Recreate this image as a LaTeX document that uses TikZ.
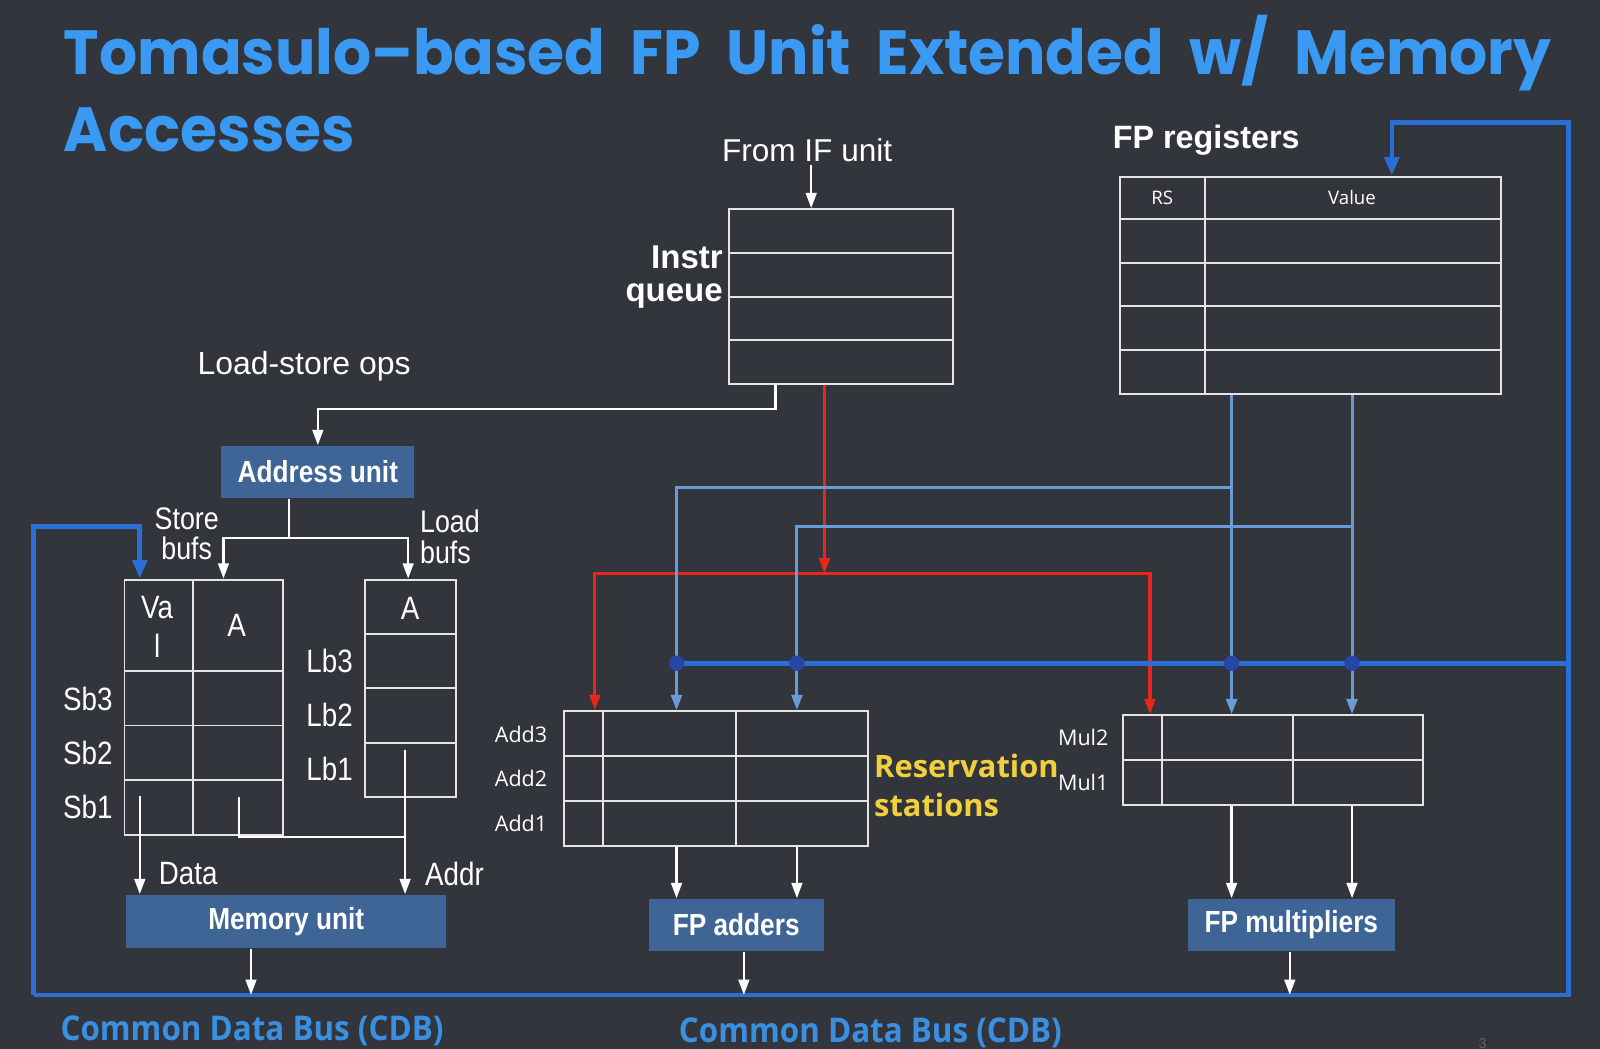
\documentclass[tikz,border=0pt]{standalone}
\usepackage{fontspec}
\setmainfont{Liberation Sans}
\newfontfamily\titlefont[FakeStretch=0.96]{Poppins}
\newfontfamily\narrowfont[FakeStretch=0.86]{Liberation Sans}
\newfontfamily\uifont{Open Sans}
\newfontfamily\cdbfont[FakeStretch=0.92]{Open Sans}
\usepackage{tikz}
\usetikzlibrary{positioning, fit, arrows.meta, calc}
\definecolor{slideBg}{HTML}{33353C}
\definecolor{titleBlue}{HTML}{3A9AF3}
\definecolor{unitBlue}{HTML}{3F6596}
\definecolor{cdbBlue}{HTML}{2B6FD6}
\definecolor{cdbText}{HTML}{3A8FE0}
\definecolor{tagBlue}{HTML}{6A9BD8}
\definecolor{dotBlue}{HTML}{2846A8}
\definecolor{issueRed}{HTML}{E8261C}
\definecolor{rsYellow}{HTML}{F2D03C}
\definecolor{gridWhite}{HTML}{E4E4E4}

\begin{document}
\begin{tikzpicture}[
  x=0.01cm, y=-0.01cm,
  tbl/.style={draw=gridWhite, line width=0.55pt, inner sep=0pt},
  unitbox/.style={fill=unitBlue, text=white, inner sep=0pt,
    font=\narrowfont\bfseries\fontsize{8.5}{10}\selectfont},
  lbl/.style={text=white, inner sep=0pt, font=\narrowfont\fontsize{9}{10}\selectfont},
  rslbl/.style={text=white, inner sep=0pt, anchor=east, font=\uifont\fontsize{6}{7}\selectfont},
  wline/.style={draw=white, line width=0.65pt},
  warr/.style={wline, -{Triangle[length=1.5mm, width=1.05mm]}},
  rarr/.style={draw=issueRed, line width=0.85pt, -{Triangle[length=1.5mm, width=1.05mm]}},
  barr/.style={draw=tagBlue, line width=0.85pt, -{Triangle[length=1.5mm, width=1.05mm]}},
  cdb/.style={draw=cdbBlue, line width=1.3pt},
  cdbarr/.style={cdb, -{Triangle[length=1.8mm, width=1.4mm]}},
  busdot/.style={circle, fill=dotBlue, inner sep=0pt, minimum size=0.15cm},
  cdblbl/.style={text=cdbText, inner sep=0pt, font=\cdbfont\bfseries\fontsize{9.5}{10}\selectfont}
]
  % Marco de la diapositiva
  \fill[slideBg] (0,0) rectangle (1568,1028);
  \useasboundingbox (0,0) rectangle (1568,1028);

  % Bus común (CDB)
  \pgfmathsetmacro{\cdbL}{33}
  \pgfmathsetmacro{\cdbR}{1537}
  \pgfmathsetmacro{\cdbB}{975}
  \pgfmathsetmacro{\cdbM}{650}

  % --- Título ---
  \node[anchor=base west, inner sep=0pt, text=titleBlue,
        font=\titlefont\bfseries\fontsize{17.4}{20}\selectfont] (ttlA) at (62,73)
    {Tomasulo–based\ \ FP\ \ Unit\ \ Extended\ \ w/\ \ Memory};
  \node[anchor=base west, inner sep=0pt, text=titleBlue,
        font=\titlefont\bfseries\fontsize{17.4}{20}\selectfont] (ttlB) at (62,148) {Accesses};

  % --- Cola de instrucciones ---
  \node[tbl, fit={(714,205) (934,376)}] (iq) {};
  \foreach \y in {248,291,333}
    \draw[tbl] (iq.west |- 0,\y) -- (iq.east |- 0,\y);
  \node[text=white, inner sep=0pt, font=\fontsize{8.8}{10}\selectfont] (ifl) at (791,147) {From IF unit};
  \node[anchor=east, align=right, text=white, inner sep=0pt,
        font=\bfseries\fontsize{9.2}{9.2}\selectfont] (iqlbl) at (709,272) {Instr\\queue};
  \draw[warr] ([yshift=-0.03cm]ifl.south -| 795,0) -- (iq.north -| 795,0);

  % --- Registros FP ---
  \node[tbl, fit={(1098,173) (1471,386)}] (fpr) {};
  \draw[tbl] (1181,173) -- (1181,386);
  \foreach \y in {215,258,300,343}
    \draw[tbl] (fpr.west |- 0,\y) -- (fpr.east |- 0,\y);
  \node[anchor=west, text=white, inner sep=0pt, font=\bfseries\fontsize{9}{10}\selectfont]
    (fprlbl) at (1090,137) {FP registers};
  \node[text=white, inner sep=0pt, font=\uifont\fontsize{5.2}{6}\selectfont] (rsh) at (1139,194) {RS};
  \node[text=white, inner sep=0pt, font=\uifont\fontsize{5.2}{6}\selectfont] (valh) at (1325,194) {Value};

  % --- Unidad de direcciones y buffers ---
  \node[text=white, inner sep=0pt, font=\fontsize{8.9}{10}\selectfont] (lsops) at (298,359) {Load-store ops};
  \node[unitbox, minimum width=1.89cm, minimum height=0.51cm] (addr) at (311.5,462.5) {Address unit};
  \coordinate (lsTap) at (760,376);
  \draw[warr] (lsTap) -- ++(0,25) -| (addr.north);

  \node[tbl, fit={(122,568) (277,818)}] (sb) {};
  \draw[tbl] (189,568) -- (189,818);
  \foreach \y in {658,711,764}
    \draw[tbl] (sb.west |- 0,\y) -- (sb.east |- 0,\y);
  \node[tbl, fit={(358,568) (447,781)}] (lb) {};
  \foreach \y in {621,674,728}
    \draw[tbl] (lb.west |- 0,\y) -- (lb.east |- 0,\y);

  \coordinate (auSplit) at (283,527);
  \draw[wline] (addr.south -| auSplit) -- (auSplit);
  \draw[warr] (auSplit) -| (sb.north -| 219,0);
  \draw[warr] (auSplit) -| (lb.north -| 400,0);

  \node[lbl, align=center, font=\narrowfont\fontsize{8.7}{8.4}\selectfont] (sbuf) at (183,523) {Store\\bufs};
  \node[lbl, align=left, anchor=west, font=\narrowfont\fontsize{8.7}{8.8}\selectfont] (lbuf) at (411,526) {Load\\bufs};
  \node[lbl, align=center, font=\narrowfont\fontsize{9}{10.8}\selectfont] (sbv) at (154,614) {Va\\l};
  \node[lbl] (sba) at (232,613) {A};
  \node[lbl] (lba) at (402,596) {A};
  \foreach \n/\y in {3/685,2/738,1/791}
    \node[lbl] (sb\n) at (86,\y) {Sb\n};
  \foreach \n/\y in {3/648,2/701,1/754}
    \node[lbl] (lb\n) at (323,\y) {Lb\n};

  % --- Unidad de memoria ---
  \node[unitbox, minimum width=3.13cm, minimum height=0.52cm] (mem) at (280.5,903) {Memory unit};
  \coordinate (sbData) at (137,780);
  \coordinate (sbAddr) at (234,781);
  \coordinate (lbAddr) at (397,735);
  \draw[warr] (sbData) -- (mem.north -| sbData);
  \draw[wline] (sbAddr) |- (lbAddr |- 0,820);
  \draw[warr] (lbAddr) -- (mem.north -| lbAddr);
  \node[lbl, anchor=west] (datalbl) at (155,856) {Data};
  \node[lbl, anchor=west] (addrlbl) at (416,856) {Addr};

  % --- Estaciones de reserva ---
  \node[tbl, fit={(553,697) (851,829)}] (add) {};
  \foreach \x in {591,721}
    \draw[tbl] (add.north -| \x,0) -- (add.south -| \x,0);
  \foreach \y in {741,785}
    \draw[tbl] (add.west |- 0,\y) -- (add.east |- 0,\y);
  \foreach \n/\y in {3/720,2/763,1/807}
    \node[rslbl] (add\n) at (537,\y) {Add\n};

  \node[tbl, fit={(1101,701) (1395,789)}] (mul) {};
  \foreach \x in {1139,1267}
    \draw[tbl] (mul.north -| \x,0) -- (mul.south -| \x,0);
  \draw[tbl] (mul.west |- 0,745) -- (mul.east |- 0,745);
  \foreach \n/\y in {2/723,1/767}
    \node[rslbl] (mul\n) at (1087,\y) {Mul\n};

  \node[anchor=west, align=left, text=rsYellow, inner sep=0pt,
        font=\uifont\bfseries\fontsize{8.6}{10.8}\selectfont] (rslbl) at (856,770) {Reservation\\stations};

  % --- Emisión (rojo) ---
  \coordinate (issue) at (808,562);
  \draw[rarr] (iq.south -| issue) -- (issue);
  \draw[rarr] (issue) -| (add.north -| 583,0);
  \draw[rarr] (issue) -| (mul.north -| 1127,0);

  % --- Operandos desde los registros ---
  \draw[barr] (fpr.south -| 1207,0) -- (mul.north -| 1207,0);
  \draw[barr] (fpr.south -| 1325,0) -- (mul.north -| 1325,0);
  \draw[barr] (1207,478) -| (add.north -| 663,0);
  \draw[barr] (1325,516) -| (add.north -| 781,0);

  % --- Unidades funcionales ---
  \node[unitbox, minimum width=1.71cm, minimum height=0.51cm] (fpadd) at (721.5,906.5) {FP adders};
  \node[unitbox, minimum width=2.03cm, minimum height=0.51cm] (fpmul) at (1265.5,906.5) {FP multipliers};
  \foreach \x in {663,781}
    \draw[warr] (add.south -| \x,0) -- (fpadd.north -| \x,0);
  \foreach \x in {1207,1325}
    \draw[warr] (mul.south -| \x,0) -- (fpmul.north -| \x,0);

  % --- Bus común de datos ---
  \coordinate (cdbBL) at (\cdbL,\cdbB);
  \coordinate (cdbBR) at (\cdbR,\cdbB);
  \coordinate (cdbTR) at (\cdbR,120);
  \coordinate (cdbTL) at (\cdbL,516);
  \draw[cdbarr] (cdbBL) -- (cdbBR) -- (cdbTR) -| (fpr.north -| 1364,0);
  \draw[cdbarr] (cdbBL) -- (cdbTL) -| (sb.north -| 137,0);
  \draw[cdb] (660,\cdbM) -- (\cdbR,\cdbM);
  \foreach \x in {663,781,1207,1325}
    \node[busdot] (dot\x) at (\x,\cdbM) {};

  \draw[warr] (mem.south -| 246,0) -- (cdbBL -| 246,0);
  \draw[warr] (fpadd.south -| 729,0) -- (cdbBL -| 729,0);
  \draw[warr] (fpmul.south -| 1264,0) -- (cdbBL -| 1264,0);

  \node[cdblbl] (cdbA) at (247,1010) {Common Data Bus (CDB)};
  \node[cdblbl] (cdbB) at (853,1012) {Common Data Bus (CDB)};
  \node[text=gray!60!slideBg, inner sep=0pt, font=\fontsize{4}{5}\selectfont] (pg) at (1453,1023) {3};
\end{tikzpicture}
\end{document}
